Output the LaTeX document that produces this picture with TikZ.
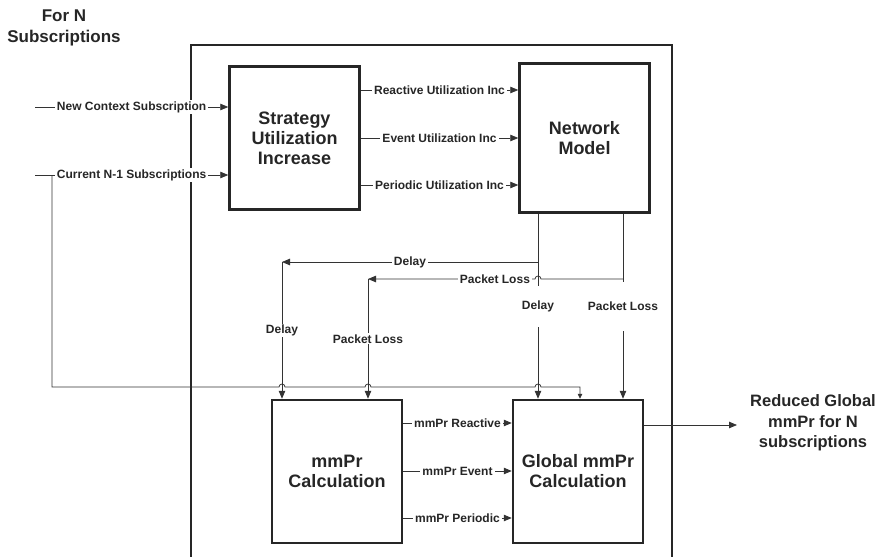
\documentclass[tikz,border=0pt]{standalone}
\usepackage{fontspec}
\setmainfont{Liberation Sans}
\usetikzlibrary{positioning,arrows.meta}
\tikzstyle{blk}=[draw=black!85, line width=2.5pt, minimum width=130pt, minimum height=143pt, align=center, text=black!85, font=\bfseries\fontsize{18}{20}\selectfont]
\tikzstyle{wire}=[draw=black!80, line width=0.8pt]
\tikzstyle{conn}=[wire, -{Triangle[length=8pt,width=6.5pt]}]
\tikzstyle{lbl}=[fill=white, inner xsep=2pt, inner ysep=1pt, text=black!85, font=\bfseries\fontsize{12}{14}\selectfont]
\tikzstyle{big}=[align=center, text=black!85, font=\bfseries\fontsize{16.5}{20.5}\selectfont]

\begin{document}
\begin{tikzpicture}[x=1pt,y=-1pt]
\useasboundingbox (0,0) rectangle (879,557);

% outer frame
\draw[line width=2.5pt, black!85] (191,557) -- (191,45) -- (672,45) -- (672,557);

\node[big, font=\bfseries\fontsize{17}{21}\selectfont] at (64,28) (title) {For N\\Subscriptions};

% blocks
\node[blk] at (294.5,138) (strat) {Strategy\\Utilization\\Increase};
\node[blk, minimum height=149pt, right of=strat, node distance=290pt] (net) {Network\\Model};
\node[blk] at (337,471.5) (mmpr) {mmPr\\Calculation};
\node[blk, right of=mmpr, node distance=241pt] (glob) {Global mmPr\\Calculation};

% inputs
\coordinate (newin) at (35,107);
\coordinate (curin) at (35,175);
\coordinate (curtap) at (52,175);
\draw[conn] (newin) -- node[lbl] {New Context Subscription} (newin -| strat.west);
\draw[conn] (curin) -- node[lbl] {Current N-1 Subscriptions} (curin -| strat.west);

\foreach \y/\txt in {90/Reactive Utilization Inc, 138/Event Utilization Inc, 185/Periodic Utilization Inc}
  \draw[conn] (strat.east |- 0,\y) -- node[lbl] {\txt} (net.west |- 0,\y);

\foreach \y/\txt in {423/mmPr Reactive, 471/mmPr Event, 518/mmPr Periodic}
  \draw[conn] (mmpr.east |- 0,\y) -- node[lbl] {\txt} (glob.west |- 0,\y);

% network model outputs
\coordinate (dtap) at (538,262);
\coordinate (ptap) at (623,279);
\coordinate (dturn) at (282,262);
\coordinate (pturn) at (368,279);

\draw[conn] (dtap |- net.south) -- node[lbl, inner ysep=15pt] {Delay} (dtap |- glob.north);
\draw[conn] (ptap |- net.south) -- node[lbl, inner ysep=20pt] {Packet Loss} (ptap |- glob.north);

\draw[conn] (dtap) -- node[lbl] {Delay} (dturn);
\draw[conn] (dturn) -- node[lbl] {Delay} (dturn |- mmpr.north);
\draw[conn] (ptap) -- (541,279) arc[start angle=0, end angle=180, radius=3pt]
  -- node[lbl, pos=0.24] {Packet Loss} (pturn);
\draw[conn] (pturn) -- node[lbl] {Packet Loss} (pturn |- mmpr.north);

% N-1 subscriptions bypass
\draw[wire, -{Triangle[length=5pt,width=4.5pt]}] (curtap) -- (52,387) -- (279,387)
  arc[start angle=180, end angle=0, radius=3pt] -- (365,387)
  arc[start angle=180, end angle=0, radius=3pt] -- (535,387)
  arc[start angle=180, end angle=0, radius=3pt] -- (580,387) -- (glob.north -| 580,0);

% output
\node[big] at (813,423) (result) {Reduced Global\\mmPr for N\\subscriptions};
\coordinate (outend) at (737,425);
\draw[conn] (outend -| glob.east) -- (outend);
\end{tikzpicture}
\end{document}
